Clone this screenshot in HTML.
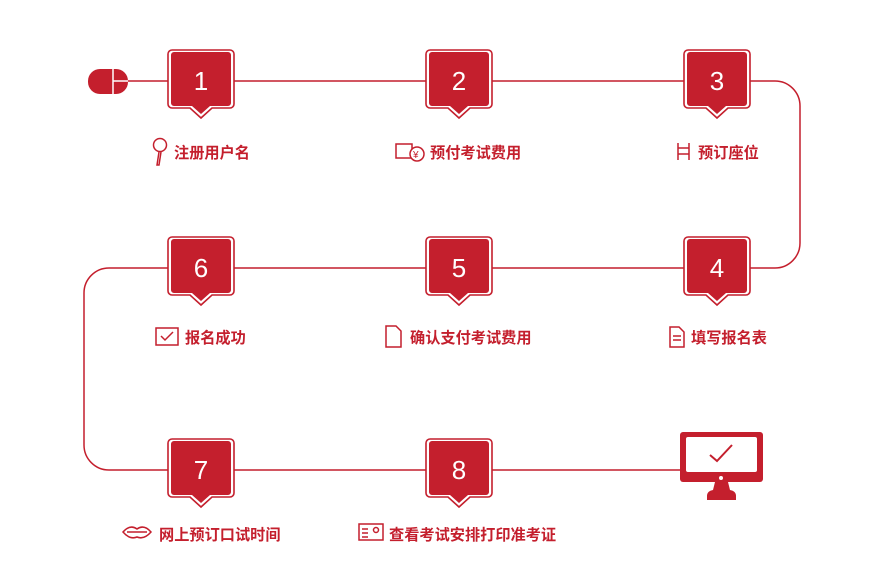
<!DOCTYPE html>
<html><head><meta charset="utf-8"><style>
html,body{margin:0;padding:0;background:#fff;}
svg{display:block}
text{font-family:"Liberation Sans","Noto Sans CJK SC",sans-serif;}
.l{font-size:15.2px;font-weight:bold;fill:#c41f2d}
.n{font-size:26px;fill:#fff;text-anchor:middle}
</style></head><body>
<svg width="892" height="576" viewBox="0 0 892 576" xmlns="http://www.w3.org/2000/svg">
<defs>
<g id="b">
<path d="M-29,-31 h58 a4,4 0 0 1 4,4 v50 a4,4 0 0 1 -4,4 h-18 l-11,10 l-11,-10 h-18 a4,4 0 0 1 -4,-4 v-50 a4,4 0 0 1 4,-4z" fill="#fff" stroke="#c41f2d" stroke-width="1.6"/>
<path d="M-27,-29 h54 a3,3 0 0 1 3,3 v48 a3,3 0 0 1 -3,3 h-18 l-9,8 l-9,-8 h-18 a3,3 0 0 1 -3,-3 v-48 a3,3 0 0 1 3,-3z" fill="#c41f2d"/>
</g>
</defs>
<g fill="none" stroke="#c41f2d" stroke-width="1.5">
<path d="M128,81 H775 a25,25 0 0 1 25,25 V243 a25,25 0 0 1 -25,25 H109 a25,25 0 0 0 -25,25 V445 a25,25 0 0 0 25,25 H680"/>
</g>
<rect x="88" y="69" width="40" height="25" rx="12" fill="#c41f2d"/>
<line x1="113" y1="69" x2="113" y2="94" stroke="#fff" stroke-width="1.5"/>
<line x1="113" y1="81" x2="128" y2="81" stroke="#fff" stroke-width="1.5"/>
<use href="#b" x="201" y="81"/><text class="n" x="201" y="90">1</text>
<use href="#b" x="459" y="81"/><text class="n" x="459" y="90">2</text>
<use href="#b" x="717" y="81"/><text class="n" x="717" y="90">3</text>
<use href="#b" x="717" y="268"/><text class="n" x="717" y="277">4</text>
<use href="#b" x="459" y="268"/><text class="n" x="459" y="277">5</text>
<use href="#b" x="201" y="268"/><text class="n" x="201" y="277">6</text>
<use href="#b" x="201" y="470"/><text class="n" x="201" y="479">7</text>
<use href="#b" x="459" y="470"/><text class="n" x="459" y="479">8</text>
<rect x="680" y="432" width="83" height="50" rx="3" fill="#c41f2d"/>
<rect x="686" y="437" width="71" height="35" rx="2" fill="#fff"/>
<circle cx="721" cy="478" r="2" fill="#fff"/>
<path d="M715,482 h13 l2,8 q6,1 6,6 v4 h-29 v-4 q0,-5 6,-6z" fill="#c41f2d"/>
<path d="M710,455 l7,6 l15,-16" fill="none" stroke="#c41f2d" stroke-width="2"/>
<g fill="none" stroke="#c41f2d" stroke-width="1.5">
<circle cx="160" cy="145" r="6.5"/><path d="M159,152 l-2,13 h2 l2,-13"/>
<rect x="396" y="144" width="16" height="14"/><circle cx="417" cy="154" r="7" fill="#fff"/>
<path d="M678,143 v17 M689,143 v17 M678,148 h11 M678,154 h11"/>
<rect x="156" y="328" width="22" height="17"/><path d="M161,336 l4,4 l8,-8"/>
<path d="M386,326 h10 l5,5 v16 h-15z"/>
<path d="M670,327 h9 l5,5 v15 h-14z M673,336 h8 M673,340 h8"/>
<path d="M123,532 q7,-8 14,-3 q7,-5 14,3 q-7,8 -14,5 q-7,3 -14,-5z M127,532 h20"/>
<rect x="359" y="524" width="24" height="16"/><path d="M362,529 h6 M362,533 h6 M362,537 h6"/><circle cx="376" cy="530" r="2.5"/>
</g>
<text fill="#c41f2d" font-size="10" x="413" y="158" font-family="Liberation Sans">¥</text>
<text class="l" x="174" y="158">注册用户名</text>
<text class="l" x="430" y="158">预付考试费用</text>
<text class="l" x="698" y="158">预订座位</text>
<text class="l" x="185" y="343">报名成功</text>
<text class="l" x="410" y="343">确认支付考试费用</text>
<text class="l" x="691" y="343">填写报名表</text>
<text class="l" x="159" y="540">网上预订口试时间</text>
<text class="l" x="389" y="540">查看考试安排打印准考证</text>
</svg>
</body></html>
